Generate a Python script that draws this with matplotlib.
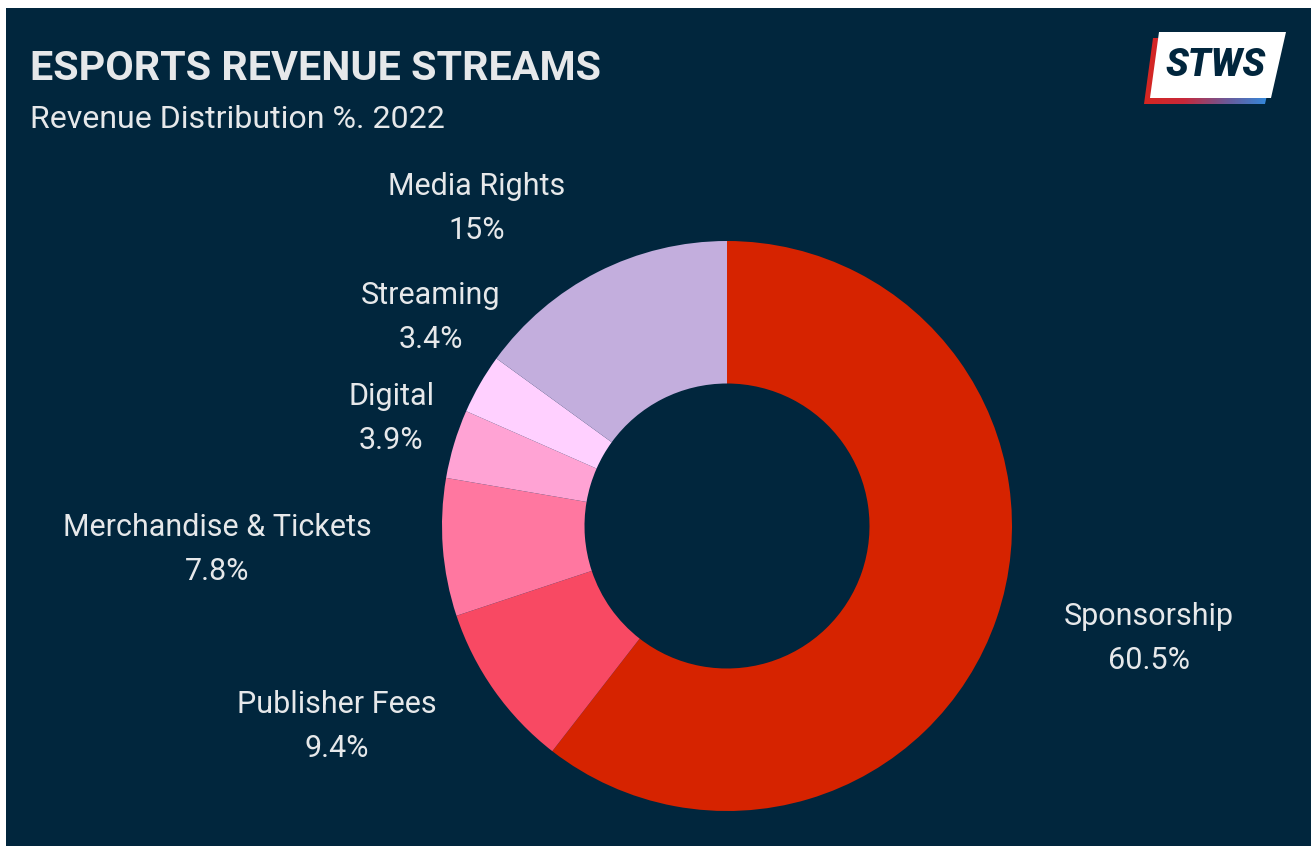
import numpy as np
import matplotlib
matplotlib.use('Agg')
import matplotlib.pyplot as plt
from matplotlib.patches import Rectangle, Polygon
from matplotlib.colors import LinearSegmentedColormap

# data
categories = ['Sponsorship', 'Publisher Fees', 'Merchandise & Tickets',
              'Digital', 'Streaming', 'Media Rights']
shares = [60.5, 9.4, 7.8, 3.9, 3.4, 15.0]
share_labels = ['60.5%', '9.4%', '7.8%', '3.9%', '3.4%', '15%']
colors = ['#D62300', '#F84963', '#FF77A0', '#FFA3D4', '#FFD0FF', '#C3AEDD']

# label nudges (pie radius units) for the crowded upper-left side
label_nudge = [(0, 0.01), (0, 0.02), (0, 0.012), (0.17, 0.016), (0.29, 0.11), (0, 0.0)]

BG = '#01263D'
TXT = '#E6E8EA'
W, H = 1311, 846
CX, CY, R = 727, 526, 285

plt.rcParams['font.family'] = ['Roboto', 'DejaVu Sans']

fig = plt.figure(figsize=(W / 100, H / 100), dpi=100)
fig.patch.set_facecolor('white')

# background layer in pixel coords
bg = fig.add_axes([0, 0, 1, 1], zorder=0)
bg.set_xlim(0, W)
bg.set_ylim(H, 0)
bg.axis('off')
bg.add_patch(Rectangle((6, 8), W - 6, H - 8, facecolor=BG, edgecolor='none'))

bg.text(30, 80, 'ESPORTS REVENUE STREAMS', color=TXT, fontsize=29.7,
        fontweight='bold', ha='left', va='baseline')
bg.text(30, 128, 'Revenue Distribution %. 2022', color=TXT, fontsize=23.1,
        ha='left', va='baseline')

# STWS logo
white_box = [(1150, 98), (1271, 98), (1286, 32), (1159, 32)]
shadow = [(x - 6, y + 6) for x, y in white_box]
shadow_poly = Polygon(shadow, closed=True, facecolor='none', edgecolor='none')
bg.add_patch(shadow_poly)
grad = LinearSegmentedColormap.from_list('logo', ['#D7261E', '#C8283A', '#6A5A9A', '#2D8EE3'])
img = bg.imshow(np.linspace(0, 1, 256)[None, :], cmap=grad, aspect='auto',
                extent=(1140, 1272, 104, 38), zorder=1)
img.set_clip_path(shadow_poly)
bg.add_patch(Polygon(white_box, closed=True, facecolor='white', edgecolor='none', zorder=2))
bg.text(1216, 66, 'STWS', color=BG, fontsize=27, fontweight='heavy', style='italic',
        ha='center', va='center', zorder=3)
bg.set_xlim(0, W)
bg.set_ylim(H, 0)

# donut
ax = fig.add_axes([0, 0, 1, 1], zorder=1)
ax.patch.set_visible(False)
wedges, _ = ax.pie(shares, colors=colors, startangle=90, counterclock=False,
                   radius=1, wedgeprops=dict(width=0.5, edgecolor='none'))
ax.set_xlim(-CX / R, (W - CX) / R)
ax.set_ylim(-(H - CY) / R, CY / R)
ax.set_aspect('equal')
ax.axis('off')

for w, name, lab, (dx, dy) in zip(wedges, categories, share_labels, label_nudge):
    ang = np.deg2rad((w.theta1 + w.theta2) / 2)
    x, y = 1.25 * np.cos(ang), 1.25 * np.sin(ang)
    ha = 'left' if x > 0 else 'right'
    ax.text(x + dx, y + dy, name + '\n' + lab, color=TXT, fontsize=22,
            ha=ha, va='center', multialignment='center', linespacing=1.65)

fig.savefig('out.png', dpi=100, facecolor=fig.get_facecolor())
